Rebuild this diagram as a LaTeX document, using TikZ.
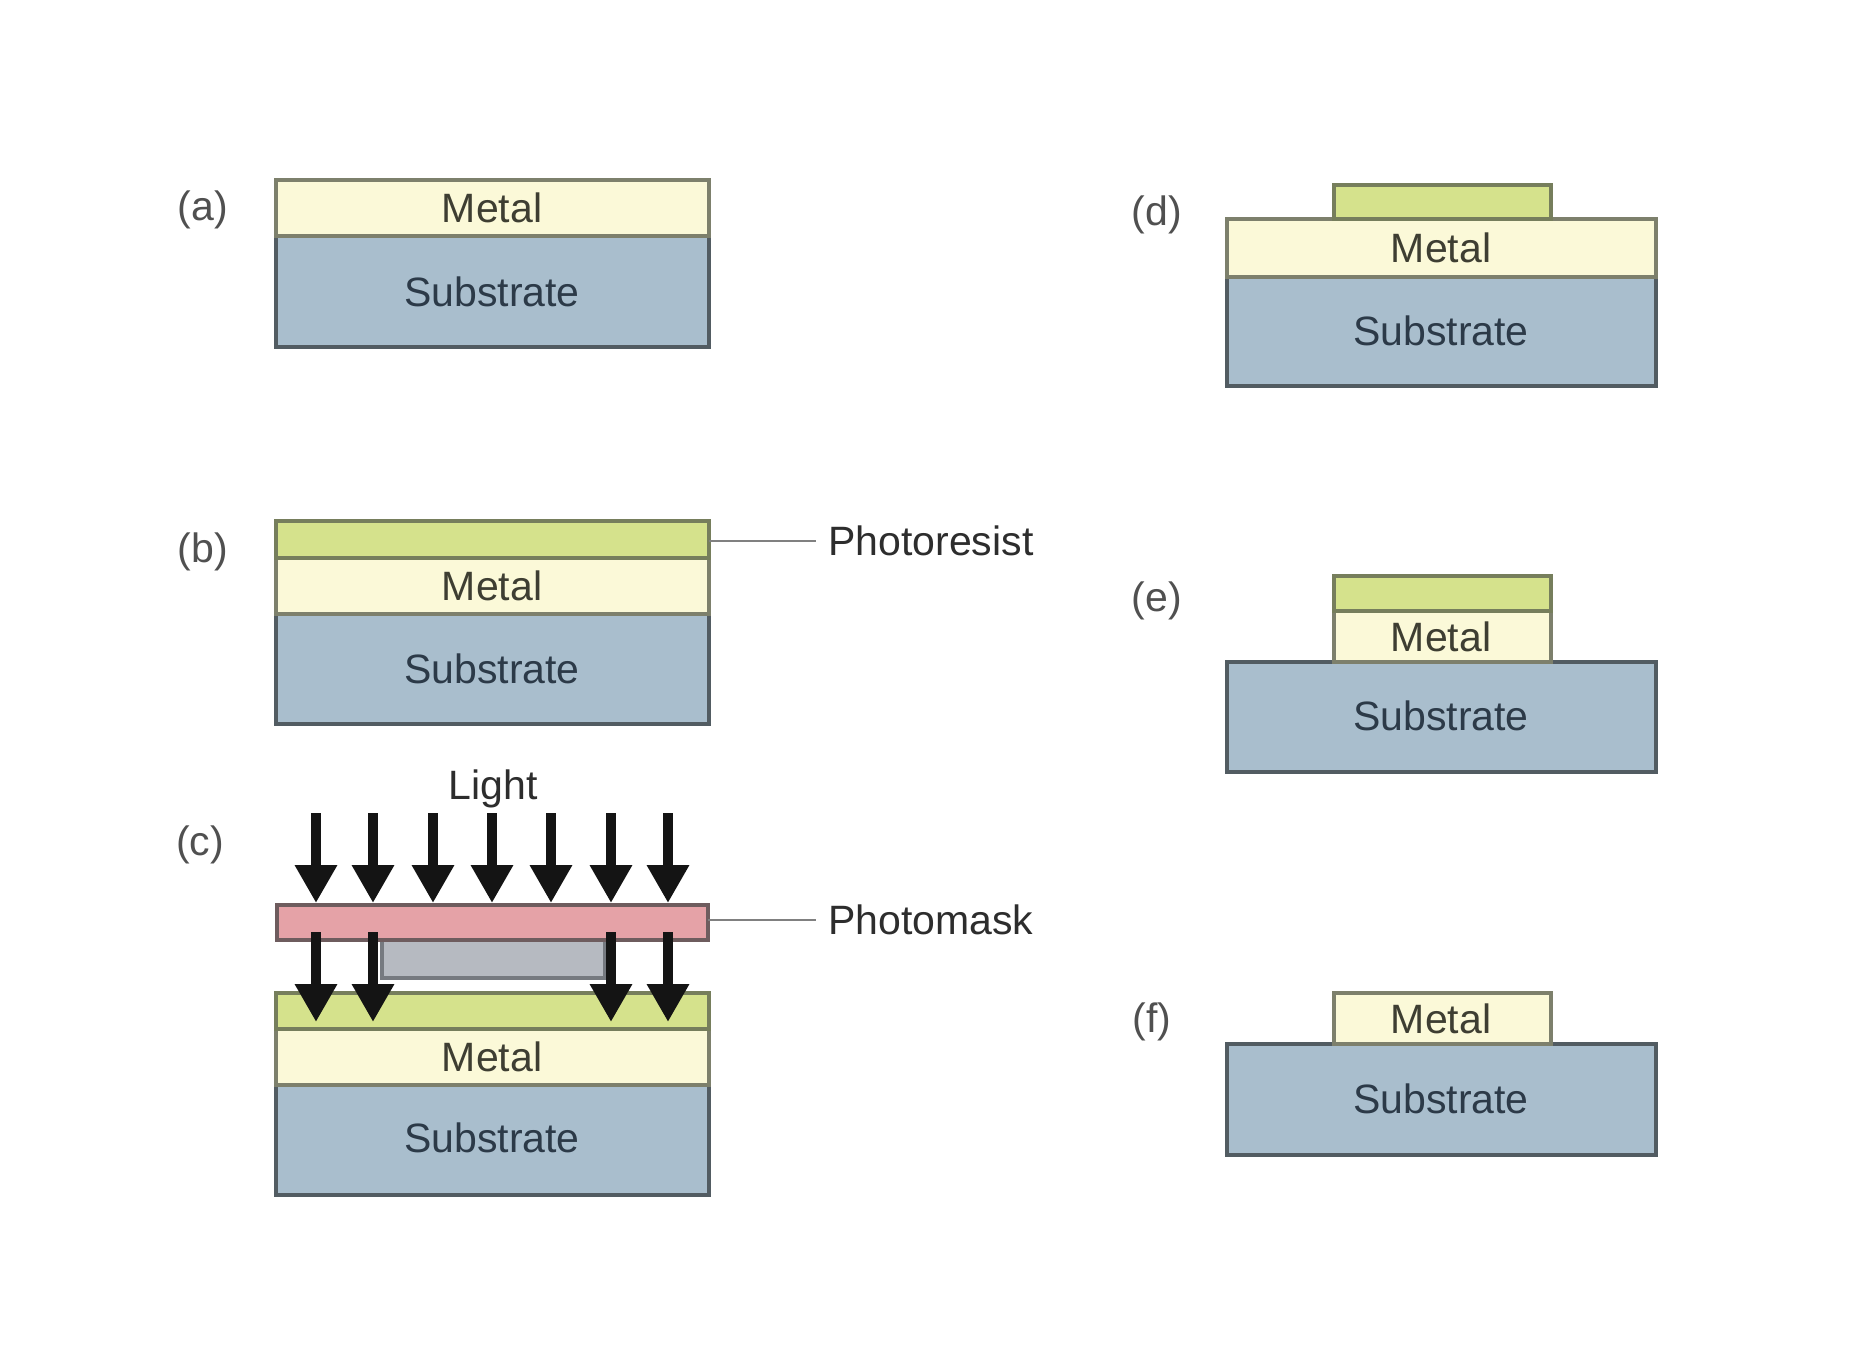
\documentclass[tikz,border=0pt]{standalone}
\usepackage{fontspec}
\setmainfont{Liberation Sans}
\usetikzlibrary{arrows.meta}
\definecolor{metalc}{RGB}{251,249,216}
\definecolor{metalb}{RGB}{125,128,108}
\definecolor{subc}{RGB}{169,190,205}
\definecolor{subb}{RGB}{82,92,98}
\definecolor{resc}{RGB}{213,226,140}
\definecolor{resb}{RGB}{118,126,92}
\definecolor{maskc}{RGB}{229,162,167}
\definecolor{maskb}{RGB}{110,92,94}
\definecolor{opc}{RGB}{182,186,193}
\definecolor{opb}{RGB}{118,122,128}
\definecolor{arrowc}{RGB}{20,20,20}
\definecolor{leadc}{RGB}{128,128,128}
\definecolor{metalt}{RGB}{62,62,50}
\definecolor{subt}{RGB}{44,58,72}
\definecolor{labt}{RGB}{80,80,80}
\definecolor{callt}{RGB}{45,45,45}
\begin{document}
\begin{tikzpicture}[x=0.5pt,y=-0.5pt,
  every node/.style={font=\fontsize{20.5}{24}\selectfont, inner sep=0pt, text height=14.7pt, text depth=0pt},
  layer/.style={line width=1.8pt, line join=miter},
  metal/.style={layer, fill=metalc, draw=metalb},
  subst/.style={layer, fill=subc, draw=subb},
  resist/.style={layer, fill=resc, draw=resb},
  pmask/.style={layer, fill=maskc, draw=maskb},
  opaque/.style={layer, fill=opc, draw=opb},
  metaltext/.style={text=metalt},
  subtext/.style={text=subt},
  steplabel/.style={text=labt},
  callout/.style={text=callt, anchor=west},
  leader/.style={draw=leadc, line width=1.4pt},
  lightarrow/.style={draw=arrowc, line width=5pt, -{Triangle[width=20pt,length=19pt]}}
]
\useasboundingbox[fill=white] (0,0) rectangle (1860,1356);

% ---------- (a)
\draw[subst] (276,236) rectangle (709,347);
\draw[metal] (276,180) rectangle (709,236);
\node[metaltext] (ma) at (492,208) {Metal};
\node[subtext] (sa) at (492,292) {Substrate};
\node[steplabel] (la) at (203,206) {(a)};

% ---------- (b)
\draw[subst] (276,614) rectangle (709,724);
\draw[metal] (276,558) rectangle (709,614);
\draw[resist] (276,521) rectangle (709,558);
\node[metaltext] (mb) at (492,586) {Metal};
\node[subtext] (sb) at (492,669) {Substrate};
\node[steplabel] (lb) at (203,548) {(b)};
\coordinate (resedge) at (709,541);
\node[callout] (pr) at (828,541) {Photoresist};
\draw[leader] (resedge) -- ([xshift=-6pt]pr.west);

% ---------- (c)
\draw[subst] (276,1085) rectangle (709,1195);
\draw[metal] (276,1029) rectangle (709,1085);
\draw[resist] (276,993) rectangle (709,1029);
\draw[opaque] (382,938) rectangle (605,978);
\draw[pmask] (277,905) rectangle (708,940);
\node[metaltext] (mc) at (492,1057) {Metal};
\node[subtext] (sc) at (492,1138) {Substrate};
\node[steplabel] (lc) at (200,841) {(c)};
\node[text=callt] (light) at (493,785) {Light};
\coordinate (maskedge) at (708,920);
\node[callout] (pm) at (828,920) {Photomask};
\draw[leader] (maskedge) -- ([xshift=-6pt]pm.west);
\foreach \x in {316,373,433,492,551,611,668}
  \draw[lightarrow] (\x,813) -- (\x,903);
\foreach \x in {316,373,611,668}
  \draw[lightarrow] (\x,932) -- (\x,1022);

% ---------- (d)
\draw[subst] (1227,277) rectangle (1656,386);
\draw[metal] (1227,219) rectangle (1656,277);
\draw[resist] (1334,185) rectangle (1551,219);
\node[metaltext] (md) at (1441,248) {Metal};
\node[subtext] (sd) at (1441,331) {Substrate};
\node[steplabel] (ld) at (1157,211) {(d)};

% ---------- (e)
\draw[subst] (1227,662) rectangle (1656,772);
\draw[metal] (1334,611) rectangle (1551,662);
\draw[resist] (1334,576) rectangle (1551,611);
\node[metaltext] (me) at (1441,637) {Metal};
\node[subtext] (se) at (1441,716) {Substrate};
\node[steplabel] (le) at (1157,597) {(e)};

% ---------- (f)
\draw[subst] (1227,1044) rectangle (1656,1155);
\draw[metal] (1334,993) rectangle (1551,1044);
\node[metaltext] (mf) at (1441,1019) {Metal};
\node[subtext] (sf) at (1441,1099) {Substrate};
\node[steplabel] (lf) at (1152,1018) {(f)};
\end{tikzpicture}
\end{document}
